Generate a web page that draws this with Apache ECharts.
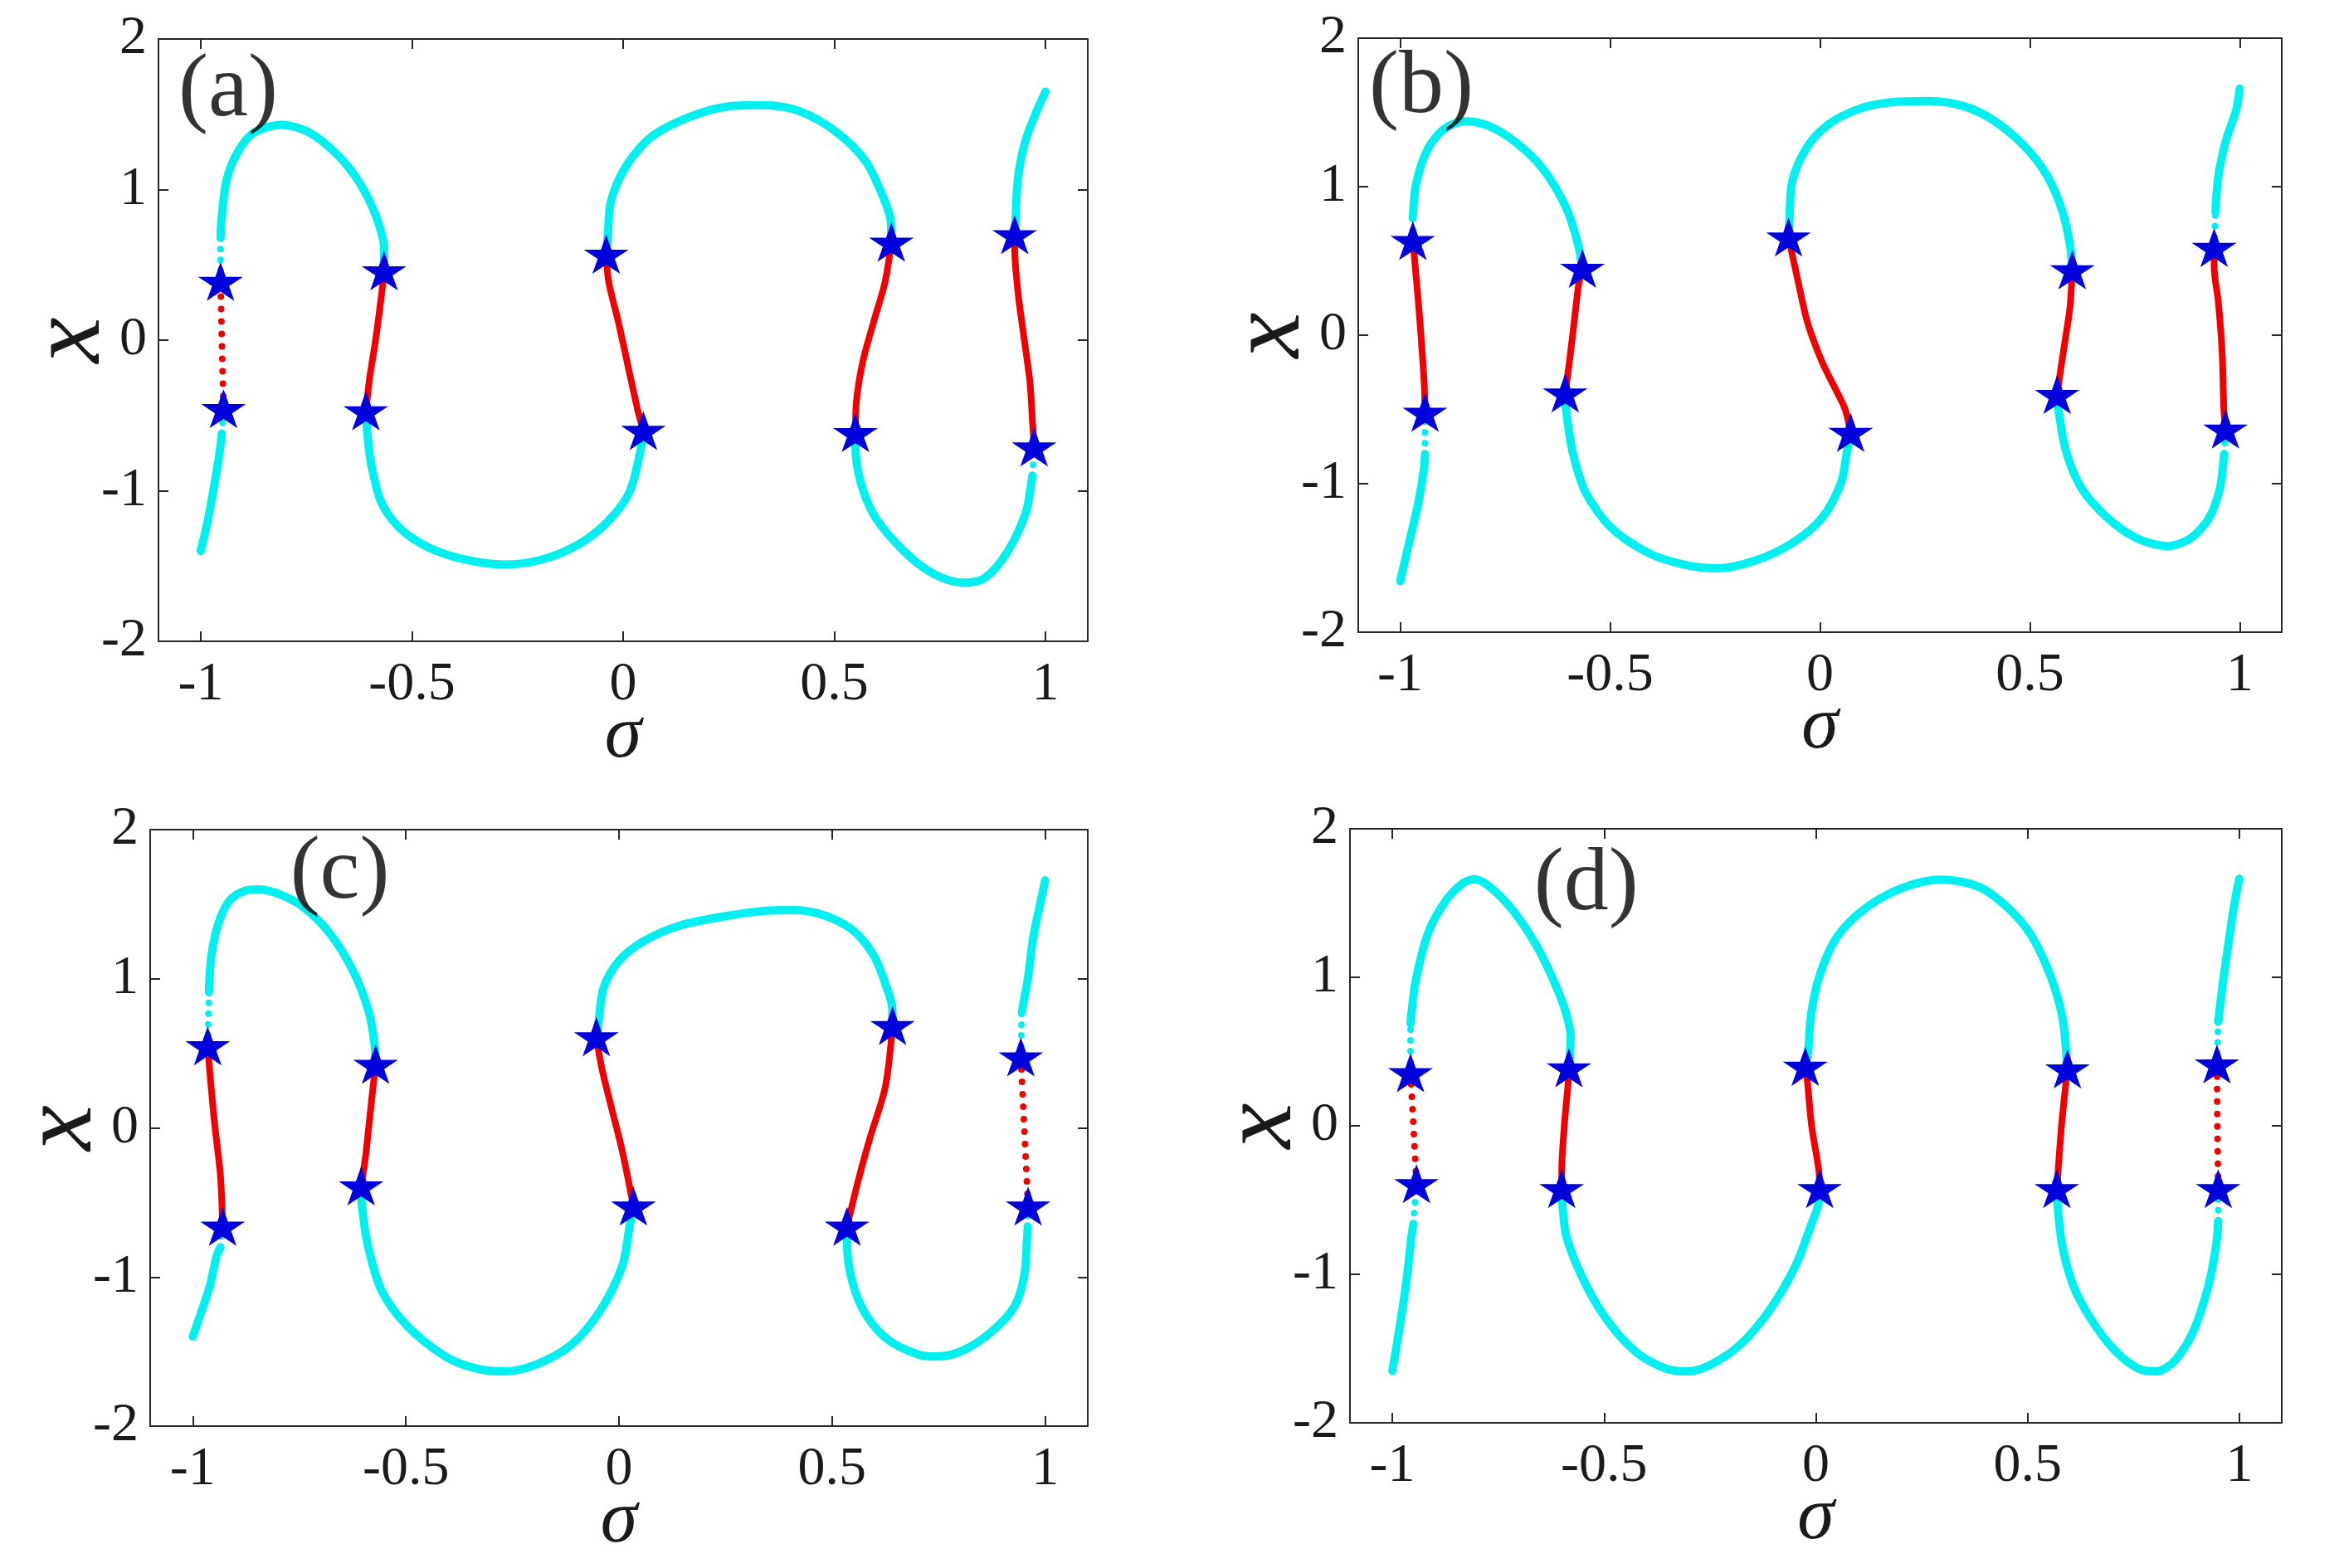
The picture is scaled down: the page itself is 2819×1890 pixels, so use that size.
<!DOCTYPE html>
<html>
<head>
<meta charset="utf-8">
<script src="https://cdn.jsdelivr.net/npm/echarts@6/dist/echarts.min.js"></script>
<style>html,body{margin:0;padding:0;background:#fff}#c{width:2819px;height:1890px}</style>
</head>
<body>
<div id="c"></div>
<script>
// ---------- tick labels ----------
const xTicks = [-1, -0.5, 0, 0.5, 1];
const yTicks = [-2, -1, 0, 1, 2];
const panelNames = ['(a)', '(b)', '(c)', '(d)'];
const panelLabelPos = [[-0.935, 1.65], [-0.95, 1.66], [-0.655, 1.70], [-0.542, 1.615]];

// ---------- panel (a) ----------
const cyanA = [
  [[-1.000,-1.40],[-0.984,-1.21],[-0.967,-0.95],[-0.955,-0.74],[-0.950,-0.62]],
  [[-0.953,0.68],[-0.951,0.79],[-0.939,1.06],[-0.912,1.25],[-0.873,1.38],[-0.808,1.43],[-0.743,1.38],[-0.676,1.23],[-0.625,1.05],[-0.586,0.83],[-0.566,0.61],[-0.566,0.46]],
  [[-0.609,-0.47],[-0.606,-0.60],[-0.597,-0.815],[-0.572,-1.08],[-0.528,-1.25],[-0.458,-1.38],[-0.370,-1.46],[-0.283,-1.49],[-0.196,-1.46],[-0.108,-1.36],[-0.038,-1.21],[0.015,-1.01],[0.040,-0.75],[0.048,-0.60]],
  [[-0.040,0.57],[-0.036,0.70],[-0.029,0.92],[0.006,1.15],[0.067,1.35],[0.155,1.48],[0.243,1.55],[0.330,1.56],[0.418,1.52],[0.506,1.38],[0.576,1.18],[0.620,0.92],[0.634,0.785],[0.635,0.65]],
  [[0.550,-0.615],[0.550,-0.70],[0.563,-0.95],[0.598,-1.18],[0.668,-1.41],[0.734,-1.55],[0.804,-1.61],[0.856,-1.58],[0.909,-1.41],[0.953,-1.15],[0.967,-0.94],[0.969,-0.90]],
  [[0.927,0.70],[0.929,0.80],[0.935,1.08],[0.952,1.32],[0.979,1.52],[1.000,1.65]]
];
const cyanDotA = [
  [[-0.950,-0.62],[-0.946,-0.46]],
  [[-0.953,0.39],[-0.953,0.68]],
  [[0.969,-0.90],[0.973,-0.71]]
];
const redA = [
  [[-0.566,0.46],[-0.572,0.30],[-0.586,0.0],[-0.600,-0.25],[-0.609,-0.47]],
  [[0.048,-0.60],[0.036,-0.481],[0.015,-0.215],[-0.011,0.118],[-0.034,0.385],[-0.040,0.57]],
  [[0.635,0.65],[0.620,0.385],[0.593,0.12],[0.567,-0.148],[0.552,-0.415],[0.550,-0.615]],
  [[0.973,-0.71],[0.969,-0.534],[0.963,-0.275],[0.949,0.017],[0.935,0.314],[0.927,0.606],[0.927,0.70]]
];
const redDotA = [
  [[-0.946,-0.455],[-0.950,0.0],[-0.953,0.39]]
];
const starsA = [[-0.946,-0.455],[-0.953,0.39],[-0.566,0.46],[-0.609,-0.47],[0.048,-0.60],[-0.040,0.57],[0.635,0.65],[0.550,-0.615],[0.973,-0.71],[0.927,0.70]];

// ---------- panel (b) ----------
const cyanB = [
  [[-1.000,-1.655],[-0.979,-1.40],[-0.957,-1.13],[-0.943,-0.89],[-0.941,-0.80]],
  [[-0.970,0.79],[-0.962,1.02],[-0.935,1.25],[-0.895,1.39],[-0.845,1.44],[-0.790,1.41],[-0.725,1.30],[-0.660,1.12],[-0.605,0.86],[-0.577,0.62],[-0.566,0.45]],
  [[-0.607,-0.39],[-0.604,-0.52],[-0.589,-0.79],[-0.558,-1.06],[-0.496,-1.30],[-0.406,-1.47],[-0.317,-1.55],[-0.245,-1.57],[-0.156,-1.52],[-0.066,-1.40],[0.005,-1.23],[0.050,-0.995],[0.064,-0.79],[0.073,-0.655]],
  [[-0.075,0.66],[-0.073,0.76],[-0.066,1.035],[-0.030,1.27],[0.023,1.425],[0.095,1.526],[0.166,1.567],[0.256,1.577],[0.345,1.54],[0.417,1.44],[0.488,1.27],[0.542,1.07],[0.578,0.83],[0.596,0.60],[0.601,0.44]],
  [[0.565,-0.40],[0.569,-0.52],[0.587,-0.79],[0.623,-1.03],[0.685,-1.23],[0.757,-1.37],[0.828,-1.42],[0.882,-1.37],[0.927,-1.23],[0.953,-1.03],[0.962,-0.826],[0.963,-0.80]],
  [[0.942,0.83],[0.949,1.07],[0.967,1.31],[0.991,1.51],[1.000,1.66]]
];
const cyanDotB = [
  [[-0.941,-0.80],[-0.941,-0.52]],
  [[-0.970,0.637],[-0.970,0.79]],
  [[0.963,-0.80],[0.966,-0.633]],
  [[0.939,0.59],[0.942,0.83]]
];
const redB = [
  [[-0.941,-0.52],[-0.943,-0.32],[-0.952,0.054],[-0.961,0.36],[-0.970,0.637]],
  [[-0.566,0.45],[-0.575,0.34],[-0.588,0.03],[-0.601,-0.27],[-0.607,-0.39]],
  [[0.073,-0.655],[0.060,-0.50],[0.041,-0.386],[0.005,-0.18],[-0.030,0.088],[-0.052,0.36],[-0.075,0.66]],
  [[0.601,0.44],[0.596,0.20],[0.587,0.02],[0.575,-0.20],[0.565,-0.40]],
  [[0.966,-0.633],[0.962,-0.49],[0.958,-0.115],[0.949,0.223],[0.939,0.46],[0.939,0.59]]
];
const redDotB = [];
const starsB = [[-0.941,-0.52],[-0.970,0.637],[-0.566,0.45],[-0.607,-0.39],[0.073,-0.655],[-0.075,0.66],[0.601,0.44],[0.565,-0.40],[0.966,-0.633],[0.939,0.59]];

// ---------- panel (c) ----------
const cyanC = [
  [[-1.000,-1.40],[-0.983,-1.26],[-0.960,-1.06],[-0.944,-0.86],[-0.935,-0.80]],
  [[-0.962,0.91],[-0.957,1.14],[-0.941,1.36],[-0.915,1.52],[-0.878,1.59],[-0.843,1.60],[-0.795,1.565],[-0.740,1.48],[-0.680,1.31],[-0.625,1.06],[-0.588,0.79],[-0.574,0.575],[-0.571,0.425]],
  [[-0.605,-0.39],[-0.603,-0.525],[-0.589,-0.79],[-0.557,-1.09],[-0.496,-1.33],[-0.409,-1.53],[-0.340,-1.61],[-0.270,-1.633],[-0.200,-1.593],[-0.114,-1.46],[-0.044,-1.226],[0.008,-0.925],[0.025,-0.66],[0.034,-0.525]],
  [[-0.053,0.61],[-0.048,0.71],[-0.036,0.94],[0.000,1.12],[0.060,1.255],[0.147,1.36],[0.251,1.42],[0.340,1.455],[0.408,1.46],[0.477,1.43],[0.547,1.33],[0.599,1.15],[0.632,0.91],[0.641,0.81],[0.642,0.686]],
  [[0.535,-0.66],[0.535,-0.76],[0.547,-1.026],[0.581,-1.26],[0.634,-1.426],[0.703,-1.52],[0.746,-1.533],[0.807,-1.493],[0.877,-1.36],[0.929,-1.193],[0.951,-0.99],[0.958,-0.726],[0.959,-0.66]],
  [[0.945,0.775],[0.960,1.01],[0.972,1.276],[0.989,1.51],[1.000,1.66]]
];
const cyanDotC = [
  [[-0.935,-0.80],[-0.930,-0.66]],
  [[-0.965,0.55],[-0.962,0.91]],
  [[0.959,-0.66],[0.960,-0.525]],
  [[0.943,0.475],[0.945,0.775]]
];
const redC = [
  [[-0.930,-0.66],[-0.935,-0.325],[-0.948,0.008],[-0.957,0.275],[-0.965,0.55]],
  [[-0.571,0.425],[-0.578,0.25],[-0.587,0.008],[-0.595,-0.20],[-0.605,-0.39]],
  [[0.034,-0.525],[0.008,-0.158],[-0.018,0.14],[-0.041,0.41],[-0.053,0.61]],
  [[0.642,0.686],[0.625,0.275],[0.590,-0.058],[0.564,-0.325],[0.535,-0.66]]
];
const redDotC = [
  [[0.960,-0.525],[0.951,0.0],[0.943,0.475]]
];
const starsC = [[-0.930,-0.66],[-0.965,0.55],[-0.571,0.425],[-0.605,-0.39],[0.034,-0.525],[-0.053,0.61],[0.642,0.686],[0.535,-0.66],[0.960,-0.525],[0.943,0.475]];

// ---------- panel (d) ----------
const cyanD = [
  [[-1.000,-1.65],[-0.982,-1.345],[-0.965,-1.01],[-0.955,-0.75],[-0.950,-0.66]],
  [[-0.957,0.69],[-0.945,0.97],[-0.915,1.30],[-0.875,1.51],[-0.835,1.63],[-0.806,1.66],[-0.770,1.61],[-0.718,1.46],[-0.665,1.24],[-0.624,1.01],[-0.592,0.78],[-0.579,0.60],[-0.583,0.39]],
  [[-0.600,-0.423],[-0.598,-0.54],[-0.589,-0.742],[-0.553,-1.01],[-0.500,-1.278],[-0.429,-1.513],[-0.358,-1.631],[-0.305,-1.654],[-0.252,-1.614],[-0.181,-1.48],[-0.110,-1.245],[-0.048,-0.943],[-0.012,-0.674],[0.005,-0.54],[0.009,-0.423]],
  [[-0.025,0.40],[-0.018,0.50],[-0.012,0.735],[0.008,1.003],[0.050,1.272],[0.121,1.473],[0.209,1.607],[0.298,1.658],[0.387,1.607],[0.458,1.456],[0.511,1.272],[0.555,1.003],[0.582,0.735],[0.590,0.534],[0.594,0.383]],
  [[0.569,-0.423],[0.571,-0.54],[0.582,-0.809],[0.608,-1.077],[0.652,-1.312],[0.706,-1.513],[0.759,-1.631],[0.804,-1.654],[0.848,-1.58],[0.892,-1.379],[0.927,-1.077],[0.945,-0.809],[0.950,-0.641]],
  [[0.950,0.70],[0.963,1.003],[0.980,1.339],[0.989,1.507],[1.000,1.664]]
];
const cyanDotD = [
  [[-0.950,-0.66],[-0.943,-0.39]],
  [[-0.957,0.357],[-0.957,0.69]],
  [[0.950,-0.641],[0.950,-0.423]],
  [[0.947,0.416],[0.950,0.70]]
];
const redD = [
  [[-0.583,0.39],[-0.585,0.28],[-0.594,0.0],[-0.600,-0.31],[-0.600,-0.423]],
  [[0.009,-0.423],[0.007,-0.30],[-0.010,0.0],[-0.020,0.30],[-0.025,0.40]],
  [[0.594,0.383],[0.590,0.28],[0.580,0.0],[0.572,-0.30],[0.569,-0.423]]
];
const redDotD = [
  [[-0.943,-0.39],[-0.950,0.0],[-0.957,0.357]],
  [[0.950,-0.423],[0.948,0.0],[0.947,0.416]]
];
const starsD = [[-0.943,-0.39],[-0.957,0.357],[-0.583,0.39],[-0.600,-0.423],[0.009,-0.423],[-0.025,0.40],[0.594,0.383],[0.569,-0.423],[0.950,-0.423],[0.947,0.416]];

// ---------- styling / assembly ----------
const FONT = '"Liberation Serif", "Times New Roman", serif';
const AX = '#262626';
const TXT = '#1a1a1a';
const CYAN = '#00f0f0';
const RED = '#f00000';
const BLUE = '#0000dc';

function starPath() {
  const pts = [];
  for (let k = 0; k < 10; k++) {
    const a = (-90 + k * 36) * Math.PI / 180;
    const r = k % 2 === 0 ? 100 : 38.2;
    pts.push((r * Math.cos(a)).toFixed(2) + ' ' + (r * Math.sin(a)).toFixed(2));
  }
  return 'path://M' + pts.join(' L') + ' Z';
}
const STAR = starPath();

const grids = [
  { left: 191, top: 47, width: 1120, height: 726 },
  { left: 1637, top: 46, width: 1113, height: 716 },
  { left: 181, top: 1000, width: 1130, height: 719 },
  { left: 1627, top: 999, width: 1123, height: 716 }
];

const panels = [
  { cyan: cyanA, cyanDot: cyanDotA, red: redA, redDot: redDotA, stars: starsA },
  { cyan: cyanB, cyanDot: cyanDotB, red: redB, redDot: redDotB, stars: starsB },
  { cyan: cyanC, cyanDot: cyanDotC, red: redC, redDot: redDotC, stars: starsC },
  { cyan: cyanD, cyanDot: cyanDotD, red: redD, redDot: redDotD, stars: starsD }
];

const xAxes = [], yAxes = [], series = [];
const lineCommon = { color: AX, width: 2 };

grids.forEach((g, p) => {
  xAxes.push({
    gridIndex: p, type: 'value', min: -1.1, max: 1.1, position: 'bottom',
    axisLine: { show: true, onZero: false, lineStyle: lineCommon },
    axisTick: { show: true, inside: true, length: 12, customValues: xTicks, lineStyle: lineCommon },
    axisLabel: { show: true, customValues: xTicks, margin: 20, fontSize: 66, fontFamily: FONT, color: TXT },
    splitLine: { show: false },
    name: 'σ', nameLocation: 'middle', nameGap: 70, nameMoveOverlap: false,
    nameTextStyle: { fontFamily: FONT, fontStyle: 'italic', fontSize: 90, color: TXT }
  });
  xAxes.push({
    gridIndex: p, type: 'value', min: -1.1, max: 1.1, position: 'top',
    axisLine: { show: true, onZero: false, lineStyle: lineCommon },
    axisTick: { show: true, inside: true, length: 12, customValues: xTicks, lineStyle: lineCommon },
    axisLabel: { show: false }, splitLine: { show: false }
  });
  yAxes.push({
    gridIndex: p, type: 'value', min: -2, max: 2, interval: 1, position: 'left',
    axisLine: { show: true, onZero: false, lineStyle: lineCommon },
    axisTick: { show: true, inside: true, length: 12, lineStyle: lineCommon },
    axisLabel: { show: true, margin: 14, fontSize: 66, fontFamily: FONT, color: TXT },
    splitLine: { show: false },
    name: 'x', nameLocation: 'middle', nameGap: 43, nameMoveOverlap: false,
    nameTextStyle: { fontFamily: FONT, fontStyle: 'italic', fontSize: 124, color: TXT }
  });
  yAxes.push({
    gridIndex: p, type: 'value', min: -2, max: 2, interval: 1, position: 'right',
    axisLine: { show: true, onZero: false, lineStyle: lineCommon },
    axisTick: { show: true, inside: true, length: 12, lineStyle: lineCommon },
    axisLabel: { show: false }, splitLine: { show: false }
  });

  const P = panels[p];
  const mk = (data, color, width, dash, z) => ({
    type: 'line', xAxisIndex: 2 * p, yAxisIndex: 2 * p, data: data,
    showSymbol: false, symbol: 'none', smooth: dash ? false : 0.3, silent: true, animation: false, z: z,
    lineStyle: { color: color, width: width, cap: 'round', join: 'round', opacity: 1, type: dash ? [0, dash] : 'solid' }
  });
  P.cyan.forEach(s => series.push(mk(s, CYAN, 10, 0, 2)));
  P.cyanDot.forEach(s => series.push(mk(s, CYAN, 8, 13, 2)));
  P.red.forEach(s => series.push(mk(s, RED, 8, 0, 3)));
  P.redDot.forEach(s => series.push(mk(s, RED, 8, 15, 3)));
  series.push({
    type: 'scatter', xAxisIndex: 2 * p, yAxisIndex: 2 * p, data: P.stars,
    symbol: STAR, symbolSize: [54, 47], itemStyle: { color: BLUE, opacity: 1 }, z: 5, silent: true, animation: false
  });
  series.push({
    type: 'scatter', xAxisIndex: 2 * p, yAxisIndex: 2 * p, data: [panelLabelPos[p]],
    symbol: 'circle', symbolSize: 1, itemStyle: { color: 'rgba(0,0,0,0)' }, z: 6, silent: true, animation: false,
    label: { show: true, position: 'inside', formatter: panelNames[p], fontFamily: FONT, fontSize: 108, color: '#000' }
  });
});

const chart = echarts.init(document.getElementById('c'), null, { renderer: 'canvas', width: 2819, height: 1890 });
chart.setOption({
  backgroundColor: '#ffffff',
  animation: false,
  grid: grids.map(g => Object.assign({ containLabel: false }, g)),
  xAxis: xAxes,
  yAxis: yAxes,
  series: series
});
</script>
</body>
</html>
